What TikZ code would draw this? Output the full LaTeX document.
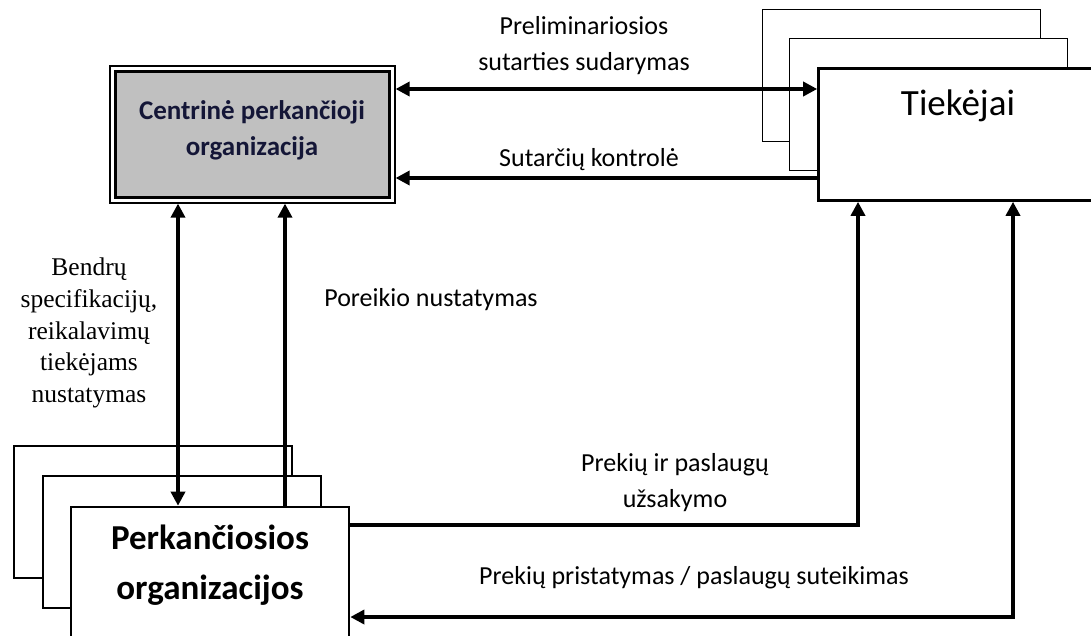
\documentclass[tikz,border=0pt]{standalone}
\usepackage{fontspec}
\setmainfont{Carlito}
\newfontfamily\serifb{Liberation Serif}
\usetikzlibrary{arrows.meta}
\definecolor{cpogray}{RGB}{192,192,192}
\definecolor{navytxt}{RGB}{20,22,55}
\begin{document}
\begin{tikzpicture}[x=1pt,y=-1pt,
  frontbox/.style={draw, line width=2.6pt, fill=white, inner sep=0pt, minimum width=278pt, minimum height=132pt},
  backbox/.style={draw, line width=1.6pt, fill=white, inner sep=0pt, minimum width=278pt, minimum height=132pt},
  conn/.style={line width=3.4pt, -{Triangle[length=14pt,width=14pt]}},
  dconn/.style={line width=3.4pt, {Triangle[length=14pt,width=14pt]}-{Triangle[length=14pt,width=14pt]}},
  lbl/.style={font=\fontsize{26}{36}\selectfont, align=center, inner sep=0pt}]
\useasboundingbox (0,0) rectangle (1091,635);
\clip (0,0) rectangle (1091,635);

% Tiekejai stack
\node[backbox] (tk3) at (901.5,75.5) {};
\node[backbox] (tk2) at (928.5,104.5) {};
\node[frontbox] (tk) at (957.5,134.5) {};
\node[font=\fontsize{37}{44}\selectfont, inner sep=0pt] (tkt) at (958,106) {Tiekėjai};

% Perkanciosios stack
\node[backbox] (pk3) at (153,512) {};
\node[backbox] (pk2) at (182,542) {};
\node[frontbox] (pk) at (210,573) {};
\node[font=\bfseries\fontsize{35}{50}\selectfont, align=center, inner sep=0pt] (pkt) at (210,565) {Perkančiosios\\organizacijos};

% Central
\node[draw, line width=1.2pt, minimum width=285pt, minimum height=137pt, inner sep=0pt] (cpo) at (252.5,134.5) {};
\draw[line width=2.6pt, fill=cpogray] ([shift={(6,6)}]cpo.north west) rectangle ([shift={(-6,-6)}]cpo.south east);
\node[font=\bfseries\fontsize{27}{36}\selectfont, text=navytxt, align=center, inner sep=0pt] (cpot) at (252,130) {Centrinė perkančioji\\organizacija};

% connectors
\draw[dconn] (cpo.east |- 0,89) -- (tk.west |- 0,89);
\draw[conn] (tk.west |- 0,178) -- (cpo.east |- 0,178);
\draw[dconn] (178,0 |- cpo.south) -- (178,0 |- pk.north);
\draw[conn] (285,0 |- pk.north) -- (285,0 |- cpo.south);
\draw[conn] (pk.east |- 0,525) -- (858,525) -- (858,0 |- tk.south);
\draw[dconn] (pk.east |- 0,617) -- (1013,617) -- (1013,0 |- tk.south);

% labels
\node[lbl] (l1) at (584,46) {Preliminariosios\\sutarties sudarymas};
\node[lbl] (l2) at (589,160) {Sutarčių kontrolė};
\node[lbl] (l3) at (431,300) {Poreikio nustatymas};
\node[lbl] (l4) at (675,483) {Prekių ir paslaugų\\užsakymo};
\node[lbl] (l5) at (694,578) {Prekių pristatymas / paslaugų suteikimas};
\node[font=\serifb\fontsize{25.5}{31.7}\selectfont, align=center, inner sep=0pt] (l6) at (89,333) {Bendrų\\specifikacijų,\\reikalavimų\\tiekėjams\\nustatymas};
\end{tikzpicture}
\end{document}
